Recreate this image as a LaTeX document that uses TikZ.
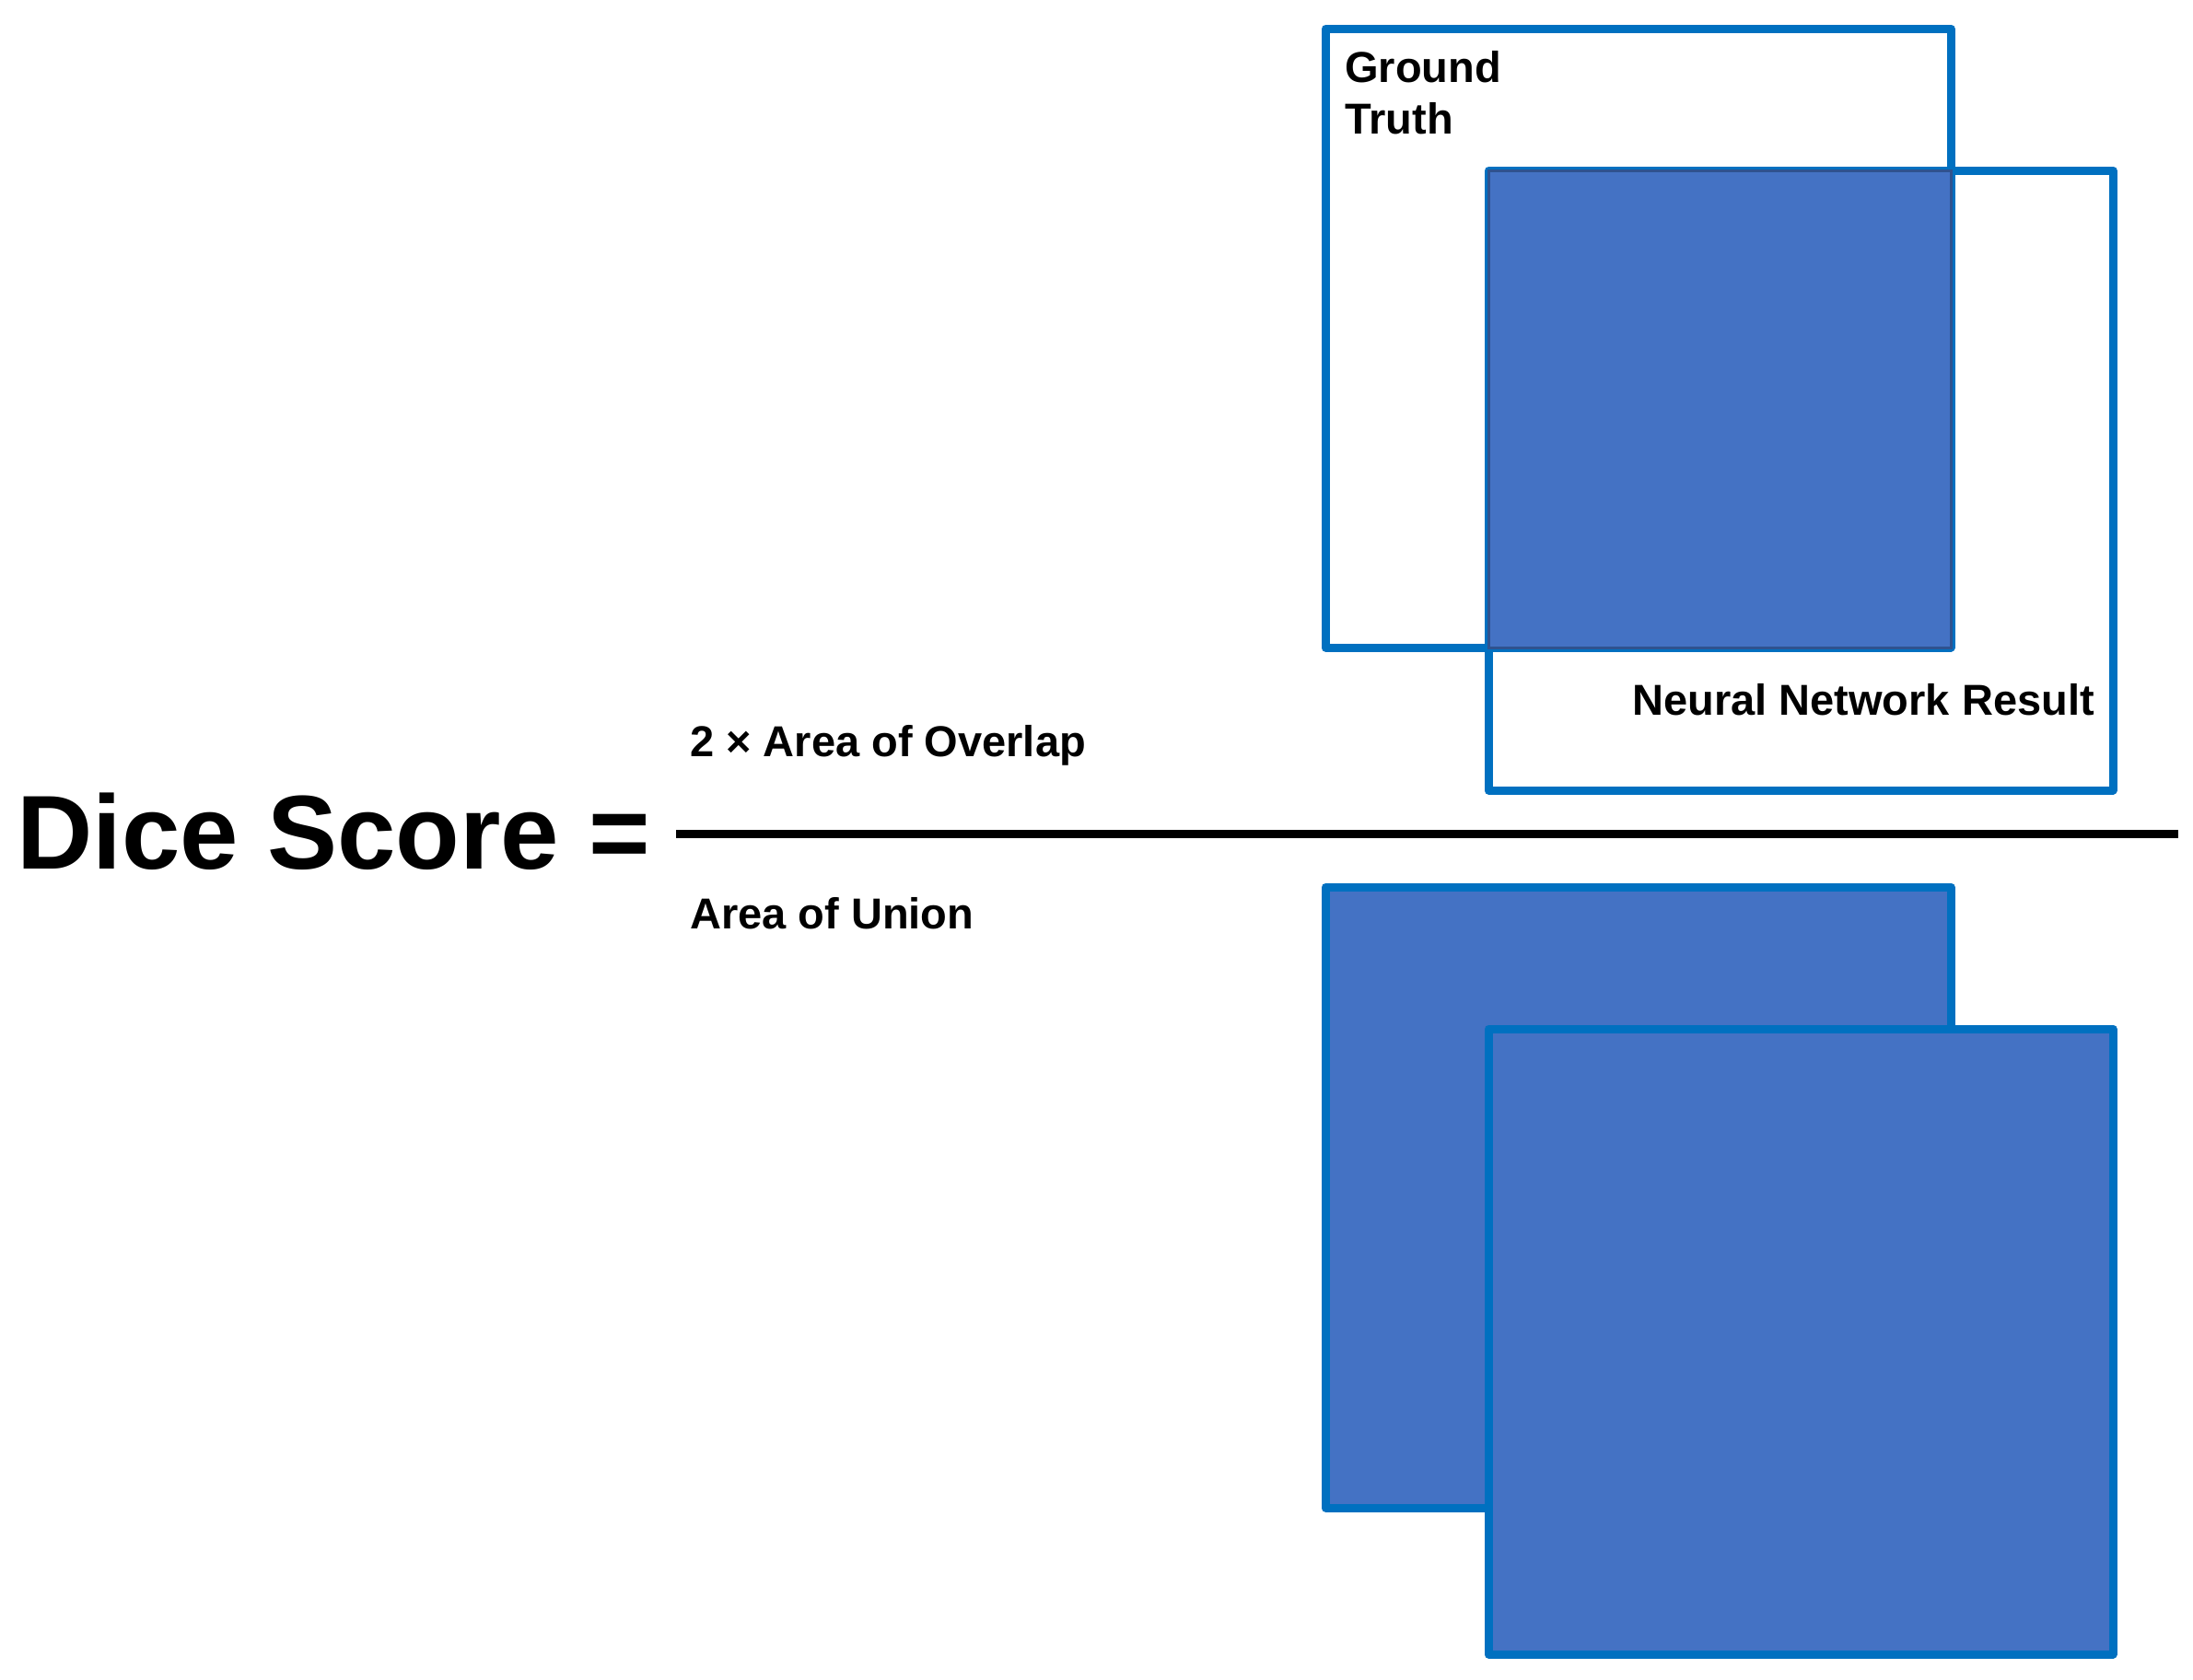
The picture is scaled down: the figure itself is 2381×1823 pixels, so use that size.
\documentclass[tikz,border=0pt]{standalone}
\usepackage{fontspec}
\setmainfont{Liberation Sans}
\definecolor{edge}{HTML}{0070C0}
\definecolor{fillb}{HTML}{4472C4}
\definecolor{dark}{HTML}{2F528F}
\begin{document}
\begin{tikzpicture}[x=1pt,y=-1pt,
  box/.style={draw=edge,line width=9pt,line join=round},
  lbl/.style={font=\bfseries\fontsize{47}{56}\selectfont,inner sep=0pt}]
\useasboundingbox (0,0) rectangle (2381,1823);
% top
\draw[box] (1439,31) rectangle (1616+502,703);
\draw[box] (1616,185) rectangle (2294,858);
\filldraw[fill=fillb,draw=dark,line width=3pt] (1616,185) rectangle (2118,703);
% bottom
\filldraw[box,fill=fillb] (1439,963) rectangle (2118,1637);
\filldraw[box,fill=fillb] (1616,1117) rectangle (2294,1796);
\draw[line width=9pt] (734,905) -- (2365,905);
\node[anchor=west,inner sep=0pt,font=\bfseries\fontsize{114}{130}\selectfont] (dice) at (18,903) {Dice Score =};
\node[lbl,anchor=west] (num) at (749,809) {2 × Area of Overlap};
\node[lbl,anchor=west] (den) at (749,992) {Area of Union};
\node[lbl,anchor=north west,align=left] (gt) at (1460,55) {Ground\\Truth};
\node[lbl,anchor=east] (nn) at (2274,760) {Neural Network Result};
\end{tikzpicture}
\end{document}
